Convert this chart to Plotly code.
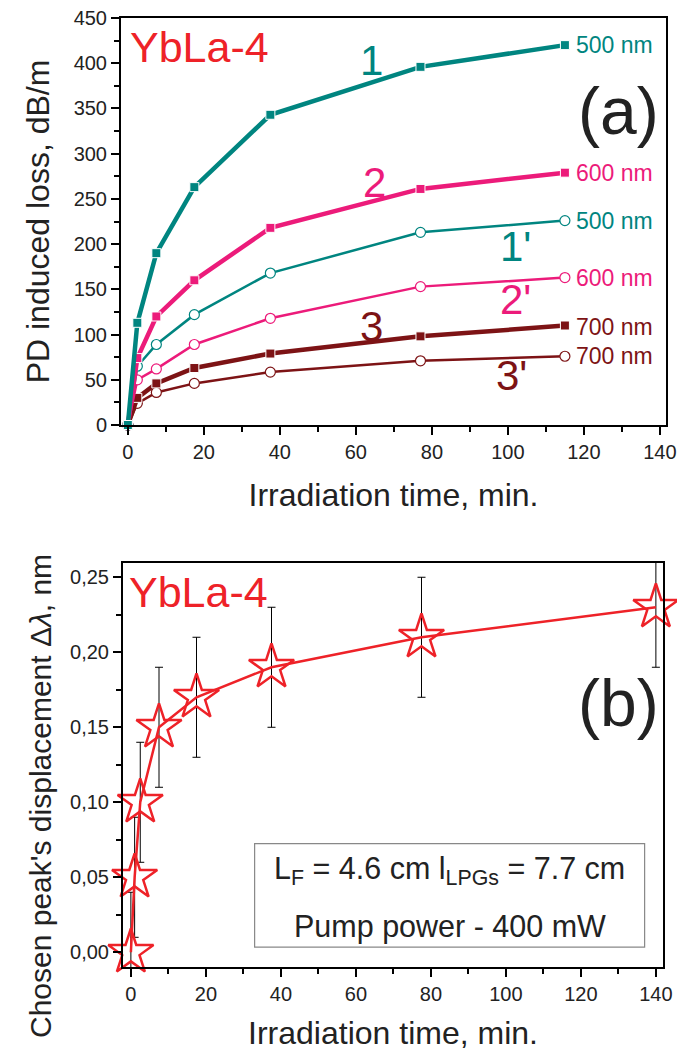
import plotly.graph_objects as go

# ---------------- data ----------------
t_a = [0, 2.5, 7.5, 17.5, 37.5, 77, 115]
loss_1 = [0, 113, 190, 263, 343, 396, 420]
loss_2 = [0, 74, 120, 160, 218, 261, 279]
loss_1p = [0, 65, 89, 122, 168, 213, 226]
loss_2p = [0, 50, 62, 89, 118, 153, 163]
loss_3 = [0, 30, 46, 63, 79, 98, 110]
loss_3p = [0, 24, 36, 46, 58.5, 71, 76]

t_b = [0, 1, 2.5, 7.5, 17.5, 37.5, 77.5, 140]
shift_b = [0.00, 0.05, 0.10, 0.15, 0.17, 0.19, 0.21, 0.23]
err_b = [0.04, 0.04, 0.04, 0.04, 0.04, 0.04, 0.04, 0.04]

TEAL = "#008580"
PINK = "#ec1b7a"
DRED = "#7d1315"
RED = "#ee2228"
FONT = "Liberation Sans, Arial, sans-serif"

fig = go.Figure()

def add_series(x, y, color, filled, xa, ya):
    if filled:
        marker = dict(symbol="square", size=9, color=color, line=dict(color="white", width=1))
        lw = 4.5
    else:
        marker = dict(symbol="circle", size=10, color="white", line=dict(color=color, width=1.2))
        lw = 2.5
    fig.add_trace(go.Scatter(x=x, y=y, mode="lines+markers", line=dict(color=color, width=lw),
                             marker=marker, xaxis=xa, yaxis=ya, showlegend=False, cliponaxis=False))

add_series(t_a, loss_3p, DRED, False, "x", "y")
add_series(t_a, loss_3, DRED, True, "x", "y")
add_series(t_a, loss_2p, PINK, False, "x", "y")
add_series(t_a, loss_1p, TEAL, False, "x", "y")
add_series(t_a, loss_2, PINK, True, "x", "y")
add_series(t_a, loss_1, TEAL, True, "x", "y")

fig.add_trace(go.Scatter(
    x=t_b, y=shift_b, mode="lines+markers",
    line=dict(color=RED, width=2.5),
    marker=dict(symbol="star-open", size=34, color=RED, line=dict(color=RED, width=2.5)),
    error_y=dict(type="data", array=err_b, color="black", thickness=1, width=4),
    xaxis="x2", yaxis="y2", showlegend=False, cliponaxis=False))

axis_common = dict(showline=True, linewidth=2, linecolor="black", mirror=True,
                   ticks="outside", ticklen=8, tickwidth=2, tickcolor="black",
                   showgrid=False, zeroline=False, automargin=False,
                   tickfont=dict(family=FONT, size=20, color="#222"))

fig.update_layout(
    width=677, height=1051,
    margin=dict(l=0, r=0, t=0, b=0),
    paper_bgcolor="white", plot_bgcolor="white",
    separators=", ",
    font=dict(family=FONT),
    xaxis=dict(domain=[121/677, 666/677], anchor="y", range=[-1.8, 141.6], dtick=20,
               minor=dict(dtick=10, ticks="outside", ticklen=5, tickcolor="black", tickwidth=2),
               title=dict(text="Irradiation time, min.", standoff=22,
                          font=dict(family=FONT, size=32, color="#222")), **axis_common),
    yaxis=dict(domain=[1-425/1051, 1-18/1051], anchor="x", range=[0, 450], dtick=50,
               minor=dict(dtick=25, ticks="outside", ticklen=5, tickcolor="black", tickwidth=2),
               title=dict(text="PD induced loss, dB/m", standoff=14,
                          font=dict(family=FONT, size=32, color="#222")), **axis_common),
    xaxis2=dict(domain=[123/677, 663/677], anchor="y2", range=[-2.1, 141.9], dtick=20,
                minor=dict(dtick=10, ticks="outside", ticklen=5, tickcolor="black", tickwidth=2),
                title=dict(text="Irradiation time, min.", standoff=20,
                           font=dict(family=FONT, size=32, color="#222")), **axis_common),
    yaxis2=dict(domain=[1-967/1051, 1-563/1051], anchor="x2", range=[-0.0098, 0.2595], dtick=0.05,
                tickformat=".2f",
                minor=dict(dtick=0.025, ticks="outside", ticklen=5, tickcolor="black", tickwidth=2),
                **axis_common),
)

# bottom y-axis title (offset downward as in the original)
fig.add_annotation(text="Chosen peak's displacement Δ<i>λ</i>, nm", xref="paper", yref="paper",
                   x=40/677, y=1-796/1051, textangle=-90, showarrow=False,
                   xanchor="center", yanchor="middle",
                   font=dict(family=FONT, size=30, color="#222"))

def ann(text, x, y, size, color, xa="x", ya="y", xanchor="center"):
    fig.add_annotation(text=text, x=x, y=y, xref=xa, yref=ya, showarrow=False,
                       font=dict(family=FONT, size=size, color=color), xanchor=xanchor, yanchor="middle")

# panel (a) labels
ann("YbLa-4", 0, 418, 43, RED, xanchor="left")
ann("(a)", 129, 347, 66, "#222")
ann("1", 64, 403, 42, TEAL)
ann("2", 65, 268, 42, PINK)
ann("1'", 102, 197, 42, TEAL)
ann("2'", 102, 139, 42, PINK)
ann("3", 64, 109, 42, DRED)
ann("3'", 101, 55, 42, DRED)
ann("500 nm", 117.5, 420, 23, TEAL, xanchor="left")
ann("600 nm", 117.5, 279, 23, PINK, xanchor="left")
ann("500 nm", 117.5, 226, 23, TEAL, xanchor="left")
ann("600 nm", 117.5, 163, 23, PINK, xanchor="left")
ann("700 nm", 117.5, 108, 23, DRED, xanchor="left")
ann("700 nm", 117.5, 76, 23, DRED, xanchor="left")

# panel (b) labels
ann("YbLa-4", -1, 0.2405, 43, RED, "x2", "y2", xanchor="left")
ann("(b)", 130, 0.166, 66, "#222", "x2", "y2")
fig.add_shape(type="rect", xref="x2", yref="y2", x0=33, x1=137, y0=0.0035, y1=0.0725,
              line=dict(color="#888", width=1.2), fillcolor="rgba(0,0,0,0)")
ann("L<sub>F</sub> = 4.6 cm l<sub>LPGs</sub> = 7.7 cm", 85, 0.0545, 30.5, "#222", "x2", "y2")
ann("Pump power - 400 mW", 85, 0.0175, 30.5, "#222", "x2", "y2")

fig.write_html("out.html")
